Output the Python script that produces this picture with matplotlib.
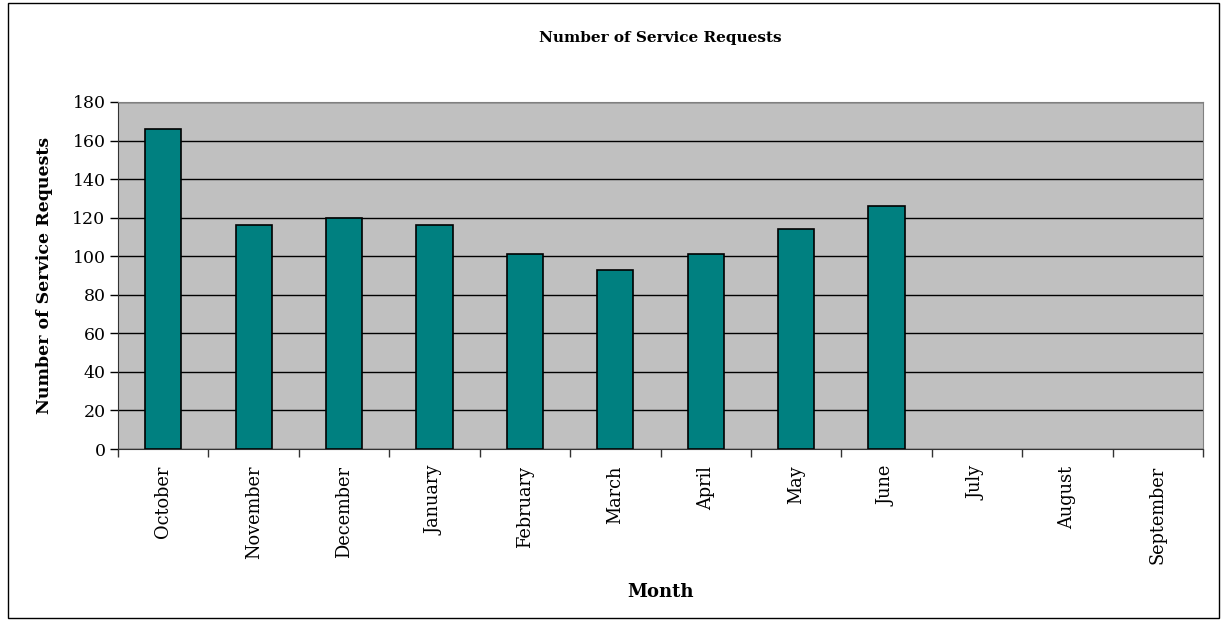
import numpy as np
import matplotlib.pyplot as plt
from matplotlib.patches import Rectangle

months = ["October", "November", "December", "January", "February", "March",
          "April", "May", "June", "July", "August", "September"]
requests = [166, 116, 120, 116, 101, 93, 101, 114, 126, 0, 0, 0]
yticks = [0, 20, 40, 60, 80, 100, 120, 140, 160, 180]

plt.rcParams['font.family'] = ['DejaVu Serif']

fig = plt.figure(figsize=(12.28, 6.21), dpi=100)
ax = fig.add_axes([118 / 1228, 1 - 449 / 621, (1203 - 118) / 1228, (449 - 102) / 621])

x = np.arange(len(months))
vals = [v if v > 0 else np.nan for v in requests]
ax.bar(x, vals, width=0.4, color="#008080", edgecolor="black", linewidth=1.2, zorder=3)

ax.set_facecolor("#c0c0c0")
ax.set_xlim(-0.5, len(months) - 0.5)
ax.set_ylim(0, 180)
ax.set_yticks(yticks)
ax.yaxis.grid(True, color="black", linewidth=1, zorder=1)
ax.set_axisbelow(True)

ax.set_xticks(x)
ax.set_xticklabels(months, rotation=90, fontsize=12.8)
ax.tick_params(axis="x", length=0, pad=12)
ax.set_xticks(np.arange(-0.5, len(months), 1), minor=True)
ax.tick_params(axis="x", which="minor", length=6, width=1, color="#333333", direction="out")
ax.tick_params(axis="y", labelsize=12.5, length=6, width=1, pad=3, direction="out")

for side in ["top", "right"]:
    ax.spines[side].set_color("#808080")
for side in ["left", "bottom"]:
    ax.spines[side].set_color("#333333")

ax.set_title("Number of Service Requests", fontsize=11, fontweight="bold", pad=43)
ax.set_xlabel("Month", fontsize=13, fontweight="bold", labelpad=14)
ax.set_ylabel("Number of Service Requests", fontsize=12.5, fontweight="bold", labelpad=14)

fig.patches.append(Rectangle((8 / 1228, 3 / 621), 1211 / 1228, 615 / 621, transform=fig.transFigure,
                             fill=False, edgecolor="black", linewidth=1))

fig.savefig("out.png", dpi=100)
